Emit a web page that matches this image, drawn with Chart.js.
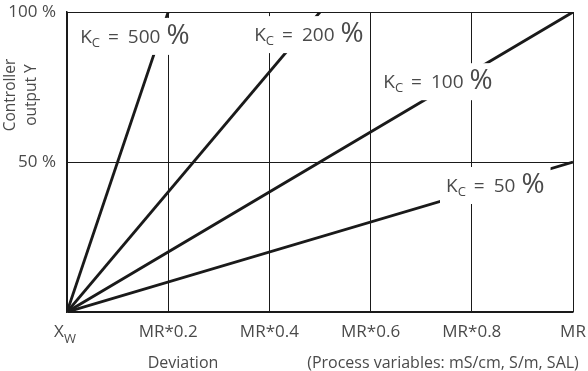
<!DOCTYPE html>
<html lang="en">
<head>
<meta charset="UTF-8">
<title>Controller output vs deviation</title>
<script src="https://cdn.jsdelivr.net/npm/chart.js"></script>
<style>
  html, body { margin: 0; padding: 0; background: #fff; }
  #wrap { width: 588px; height: 371px; }
</style>
</head>
<body>
<div id="wrap"><canvas id="chart"></canvas></div>
<script>
// deviation as fraction of measuring range (MR), output in %
const kcValues = ['500', '200', '100', '50'];
const kc500X = [0, 0.2];
const kc500Y = [0, 100];
const kc200X = [0, 0.5];
const kc200Y = [0, 100];
const kc100X = [0, 1];
const kc100Y = [0, 100];
const kc50X = [0, 1];
const kc50Y = [0, 50];

const xTicks = [0, 0.2, 0.4, 0.6, 0.8, 1];
const xTickLabels = ['', 'MR*0.2', 'MR*0.4', 'MR*0.6', 'MR*0.8', 'MR'];
const yTicks = [0, 50, 100];
const yTickLabels = ['', '50 %', '100 %'];

const FONT = '"Open Sans", "DejaVu Sans", sans-serif';
const TXT = '#4a4a4a';
const INK = '#1a1a1a';

function pts(xs, ys) {
  return xs.map((x, i) => ({ x: x, y: ys[i] }));
}

// where the Kc labels sit, in data units (left edge, baseline)
const labelSpots = [
  { x: 0.026, y: 89.7 },
  { x: 0.370, y: 90.3 },
  { x: 0.625, y: 74.6 },
  { x: 0.749, y: 40 }
];

// drop the label overhang margins so the plot box stays where it is
function noMargins(s) {
  s.paddingTop = 0; s.paddingBottom = 0;
  s.paddingLeft = 0; s.paddingRight = 0;
}

const annotate = {
  id: 'annotate',
  afterDatasetsDraw(chart) {
    const ctx = chart.ctx;
    const xs = chart.scales.x, ys = chart.scales.y;
    const area = chart.chartArea;
    ctx.save();
    ctx.textBaseline = 'alphabetic';
    ctx.textAlign = 'left';

    // Kc labels with white boxes that cut the lines
    kcValues.forEach((v, i) => {
      const x0 = xs.getPixelForValue(labelSpots[i].x);
      const yb = ys.getPixelForValue(labelSpots[i].y);
      const f1 = '19px ' + FONT, f2 = '13px ' + FONT, f3 = '28px ' + FONT;
      ctx.font = f1; const wK = ctx.measureText('K').width;
      const wEq = ctx.measureText('=').width;
      const wV = ctx.measureText(v).width;
      ctx.font = f2; const wC = ctx.measureText('C').width;
      ctx.font = f3; const wP = ctx.measureText('%').width;
      const w = wK + wC + 8 + wEq + 9 + wV + 6 + wP;
      ctx.fillStyle = '#fff';
      ctx.fillRect(x0 - 6, yb - 25, w + 12, 37);
      ctx.fillStyle = TXT;
      let x = x0;
      ctx.font = f1; ctx.fillText('K', x, yb); x += wK;
      ctx.font = f2; ctx.fillText('C', x, yb + 4); x += wC + 8;
      ctx.font = f1; ctx.fillText('=', x, yb); x += wEq + 9;
      ctx.fillText(v, x, yb); x += wV + 6;
      ctx.font = f3; ctx.fillText('%', x, yb + 1);
    });

    ctx.fillStyle = TXT;
    // X_w at origin
    const ox = xs.getPixelForValue(0);
    ctx.font = '17px ' + FONT;
    const wx = ctx.measureText('X').width;
    ctx.font = '13px ' + FONT;
    const ww = ctx.measureText('W').width;
    const sx = ox - (wx + ww) / 2 - 2;
    ctx.font = '17px ' + FONT;
    ctx.fillText('X', sx, area.bottom + 25);
    ctx.font = '13px ' + FONT;
    ctx.fillText('W', sx + wx, area.bottom + 31);

    // axis titles
    ctx.font = '16px ' + FONT;
    ctx.textAlign = 'center';
    ctx.fillText('Deviation', 183, area.bottom + 56);
    ctx.fillText('(Process variables: mS/cm, S/m, SAL)', 443, area.bottom + 56);

    ctx.font = '15.5px ' + FONT;
    ctx.textBaseline = 'middle';
    ctx.translate(11, 95);
    ctx.rotate(-Math.PI / 2);
    ctx.fillText('Controller', 0, 0);
    ctx.fillText('output Y', 0, 21);
    ctx.restore();
  }
};

const lineStyle = {
  borderColor: INK,
  borderWidth: 2.8,
  pointRadius: 0,
  fill: false,
  tension: 0
};

new Chart(document.getElementById('chart'), {
  type: 'scatter',
  data: {
    datasets: [
      Object.assign({ label: 'Kc 500 %', data: pts(kc500X, kc500Y), showLine: true }, lineStyle),
      Object.assign({ label: 'Kc 200 %', data: pts(kc200X, kc200Y), showLine: true }, lineStyle),
      Object.assign({ label: 'Kc 100 %', data: pts(kc100X, kc100Y), showLine: true }, lineStyle),
      Object.assign({ label: 'Kc 50 %', data: pts(kc50X, kc50Y), showLine: true }, lineStyle)
    ]
  },
  options: {
    responsive: true,
    maintainAspectRatio: false,
    animation: false,
    layout: { autoPadding: false, padding: { left: 0, right: 15, top: 12, bottom: 0 } },
    plugins: { legend: { display: false }, tooltip: { enabled: false } },
    scales: {
      x: {
        type: 'linear', min: 0, max: 1,
        afterBuildTicks: s => { s.ticks = xTicks.map(v => ({ value: v })); },
        afterFit: s => { s.height = 59; noMargins(s); },
        grid: { color: INK, lineWidth: 1, drawTicks: false },
        border: { color: INK, width: 1.5 },
        ticks: {
          padding: 10, color: TXT, maxRotation: 0, autoSkip: false,
          font: { family: FONT, size: 17 },
          callback: (v) => xTickLabels[xTicks.indexOf(Math.round(v * 10) / 10)]
        }
      },
      y: {
        type: 'linear', min: 0, max: 100,
        afterBuildTicks: s => { s.ticks = yTicks.map(v => ({ value: v })); },
        afterFit: s => { s.width = 67; noMargins(s); },
        grid: { color: INK, lineWidth: 1, drawTicks: false },
        border: { color: INK, width: 1.5 },
        ticks: {
          padding: 11, color: TXT,
          font: { family: FONT, size: 17 },
          callback: (v) => yTickLabels[yTicks.indexOf(v)]
        }
      }
    }
  },
  plugins: [annotate]
});
</script>
</body>
</html>
